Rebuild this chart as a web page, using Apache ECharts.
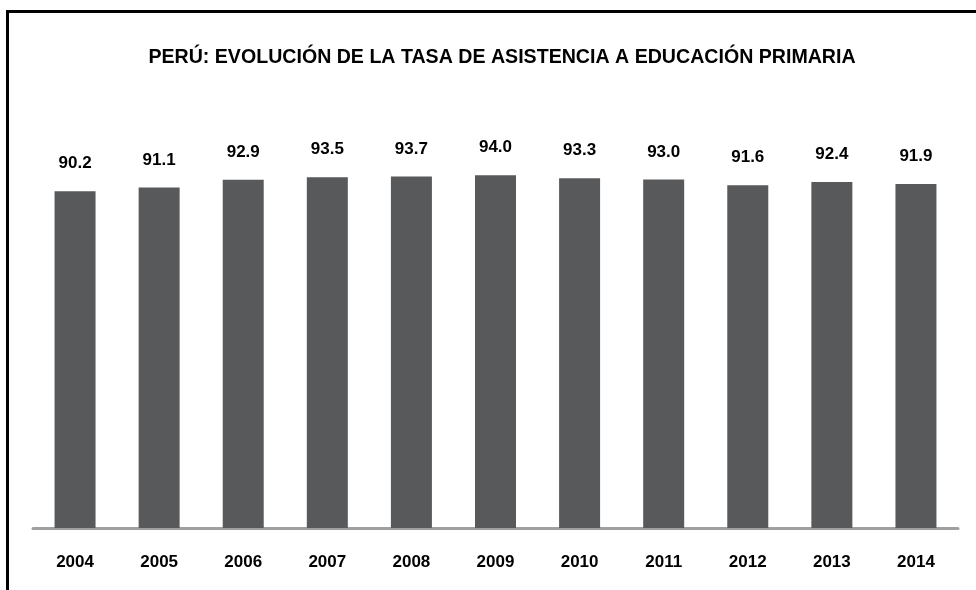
<!DOCTYPE html>
<html>
<head>
<meta charset="utf-8">
<script src="https://cdn.jsdelivr.net/npm/echarts@6/dist/echarts.min.js"></script>
<style>
html,body{margin:0;padding:0;background:#fff;}
#chart{width:976px;height:590px;}
</style>
</head>
<body>
<div id="chart"></div>
<script>
const titleText = 'PERÚ: EVOLUCIÓN DE LA TASA DE ASISTENCIA A EDUCACIÓN PRIMARIA';
const years = ['2004','2005','2006','2007','2008','2009','2010','2011','2012','2013','2014'];
const rates = [90.2, 91.1, 92.9, 93.5, 93.7, 94.0, 93.3, 93.0, 91.6, 92.4, 91.9];

const FONT = '"Liberation Sans", Arial, sans-serif';
const chart = echarts.init(document.getElementById('chart'), null, {renderer:'canvas'});
chart.setOption({
  backgroundColor: '#ffffff',
  animation: false,
  title: {
    text: titleText,
    left: 497, top: 43, textAlign: 'center',
    textStyle: {fontFamily: FONT, fontWeight: 'bold', fontSize: 19.6, color: '#000'}
  },
  graphic: [{
    type: 'rect', silent: true, z: 100,
    shape: {x: 7.5, y: 11.5, width: 1100, height: 800},
    style: {fill: 'none', stroke: '#000', lineWidth: 3}
  }],
  grid: {left: 33, right: 18, top: 150, height: 378},
  xAxis: {
    type: 'category', data: years,
    axisLine: {show: true, lineStyle: {color: '#a0a0a0', width: 3}},
    axisTick: {show: false},
    axisLabel: {fontFamily: FONT, fontWeight: 'bold', fontSize: 17, color: '#000', margin: 26}
  },
  yAxis: {
    type: 'value', min: 10, max: 100,
    show: false, splitLine: {show: false}
  },
  series: [{
    type: 'bar', data: rates, barWidth: 41,
    itemStyle: {color: '#58595b'},
    label: {
      show: true, position: 'top', distance: 19,
      formatter: p => p.value.toFixed(1),
      fontFamily: FONT, fontWeight: 'bold', fontSize: 17, color: '#000'
    }
  }]
});
</script>
</body>
</html>
